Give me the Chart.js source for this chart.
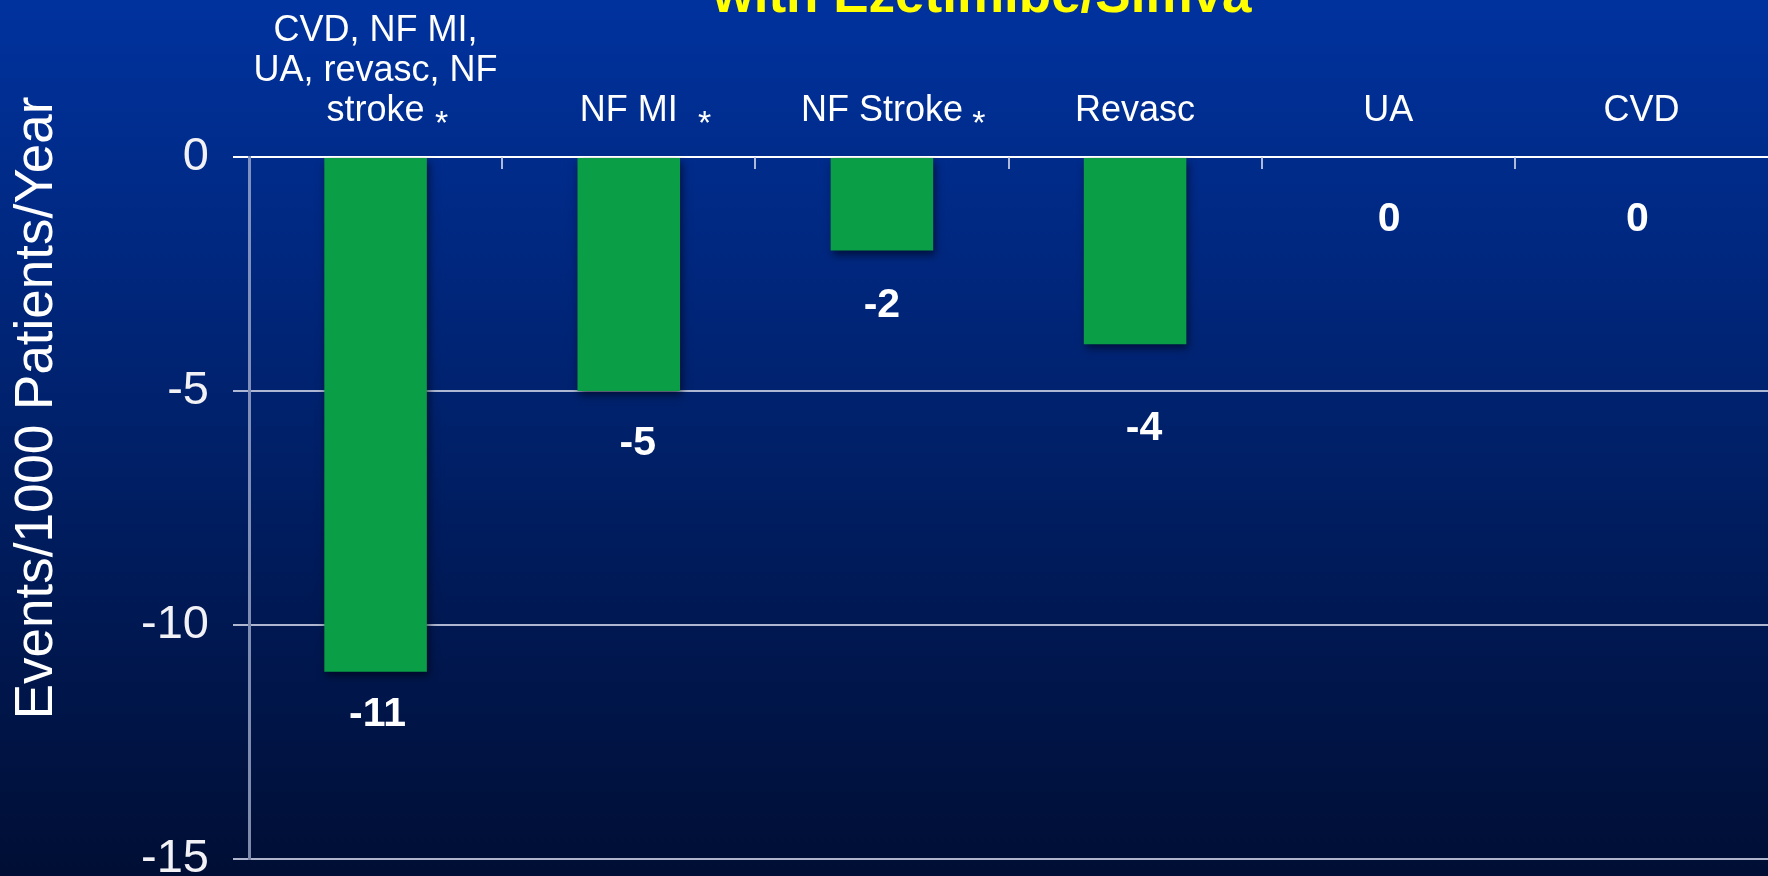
<!DOCTYPE html>
<html>
<head>
<meta charset="utf-8">
<title>Events/1000 Patients/Year</title>
<script src="https://cdn.jsdelivr.net/npm/chart.js@4.4.1/dist/chart.umd.min.js"></script>
<style>
  html, body { margin: 0; padding: 0; background: #001a5c; overflow: hidden; }
  canvas { display: block; }
</style>
</head>
<body>
<canvas id="barChart" width="1768" height="876"></canvas>
<script>
const categories = [['CVD, NF MI,', 'UA, revasc, NF', 'stroke'], 'NF MI', 'NF Stroke', 'Revasc', 'UA', 'CVD'];
const starred = [true, true, true, false, false, false];
const eventDiff = [-11, -5, -2, -4, 0, 0];
const yTickValues = [0, -5, -10, -15];

const titleText = 'with Ezetimibe/Simva';
const yAxisTitle = 'Events/1000 Patients/Year';

// nudges for the value labels under each bar, and the gap before each asterisk
const labelDx = [2, 9, 0, 9, 1, -4];
const labelDy = [43, 53, 55, 84, 63, 63];
const starGap = [17, 27, 16, 0, 0, 0];

const FONT = "'Liberation Sans', Arial, sans-serif";
const ctxBar = document.getElementById('barChart');

const slideDecor = {
  id: 'slideDecor',
  beforeDraw(chart) {
    const {ctx, width, height} = chart;
    const g = ctx.createLinearGradient(0, 0, 0, height);
    g.addColorStop(0, '#00329e');
    g.addColorStop(1, '#000e34');
    ctx.save();
    ctx.fillStyle = g;
    ctx.fillRect(0, 0, width, height);

    ctx.fillStyle = '#ffff00';
    ctx.font = `bold 53px ${FONT}`;
    ctx.textAlign = 'center';
    ctx.textBaseline = 'alphabetic';
    ctx.fillText(titleText, 982, 12);

    ctx.translate(37, 408);
    ctx.rotate(-Math.PI / 2);
    ctx.fillStyle = '#ffffff';
    ctx.font = `53px ${FONT}`;
    ctx.textBaseline = 'middle';
    ctx.fillText(yAxisTitle, 0, 0);
    ctx.restore();
  },
  beforeDatasetsDraw(chart) {
    const {ctx, chartArea, scales: {x}} = chart;
    const half = (x.getPixelForValue(1) - x.getPixelForValue(0)) / 2;
    ctx.save();
    ctx.strokeStyle = 'rgba(205,210,230,0.85)';
    ctx.lineWidth = 2;
    for (let i = 1; i < categories.length; i++) {
      const px = Math.round(x.getPixelForValue(i) - half);
      ctx.beginPath();
      ctx.moveTo(px, chartArea.top);
      ctx.lineTo(px, chartArea.top + 12);
      ctx.stroke();
    }
    ctx.restore();

    // soft drop shadow under the bars
    ctx.save();
    ctx.shadowColor = 'rgba(0,0,15,0.6)';
    ctx.shadowBlur = 8;
    ctx.shadowOffsetX = 2;
    ctx.shadowOffsetY = 4;
  },
  afterDatasetsDraw(chart) {
    const {ctx, scales: {x}} = chart;
    ctx.restore();

    const meta = chart.getDatasetMeta(0);
    ctx.save();
    ctx.fillStyle = '#ffffff';
    ctx.font = `bold 41px ${FONT}`;
    ctx.textAlign = 'center';
    ctx.textBaseline = 'middle';
    meta.data.forEach((bar, i) => {
      ctx.fillText(String(eventDiff[i]), bar.x + labelDx[i], bar.y + labelDy[i]);
    });

    ctx.textBaseline = 'alphabetic';
    categories.forEach((label, i) => {
      if (!starred[i]) return;
      const last = Array.isArray(label) ? label[label.length - 1] : label;
      ctx.font = `36px ${FONT}`;
      const w = ctx.measureText(last).width;
      ctx.font = `34px ${FONT}`;
      ctx.fillText('*', x.getPixelForValue(i) + w / 2 + starGap[i], 134);
    });
    ctx.restore();
  }
};

const barChart = new Chart(ctxBar, {
  type: 'bar',
  data: {
    labels: categories,
    datasets: [{
      data: eventDiff,
      backgroundColor: '#0a9f47',
      borderWidth: 0,
      barPercentage: 0.405,
      categoryPercentage: 1
    }]
  },
  options: {
    responsive: false,
    animation: false,
    devicePixelRatio: 1,
    layout: {
      padding: { top: 0, bottom: 17, left: 0, right: 0 }
    },
    scales: {
      x: {
        position: 'top',
        grid: { display: false, drawTicks: false },
        border: { display: false },
        ticks: {
          color: '#ffffff',
          font: { family: FONT, size: 36, lineHeight: 40 / 36 },
          padding: 26,
          maxRotation: 0,
          autoSkip: false
        },
        afterFit(scale) {
          scale.height = 157;
          scale.paddingLeft = 0;
          scale.paddingRight = 0;
        }
      },
      y: {
        min: -15,
        max: 0,
        afterBuildTicks(scale) {
          scale.ticks = yTickValues.map(v => ({ value: v }));
        },
        grid: {
          color: (c) => (c.tick && c.tick.value === 0 ? '#ffffff' : 'rgba(205,210,230,0.85)'),
          lineWidth: 2,
          tickLength: 16
        },
        border: { color: 'rgba(170,180,210,0.75)', width: 3 },
        ticks: {
          color: '#f2f2f6',
          font: { family: FONT, size: 47 },
          padding: 24
        },
        afterFit(scale) {
          scale.width = 249;
          scale.paddingTop = 0;
          scale.paddingBottom = 0;
        }
      }
    },
    plugins: {
      legend: { display: false },
      tooltip: { enabled: false }
    }
  },
  plugins: [slideDecor]
});
</script>
</body>
</html>
